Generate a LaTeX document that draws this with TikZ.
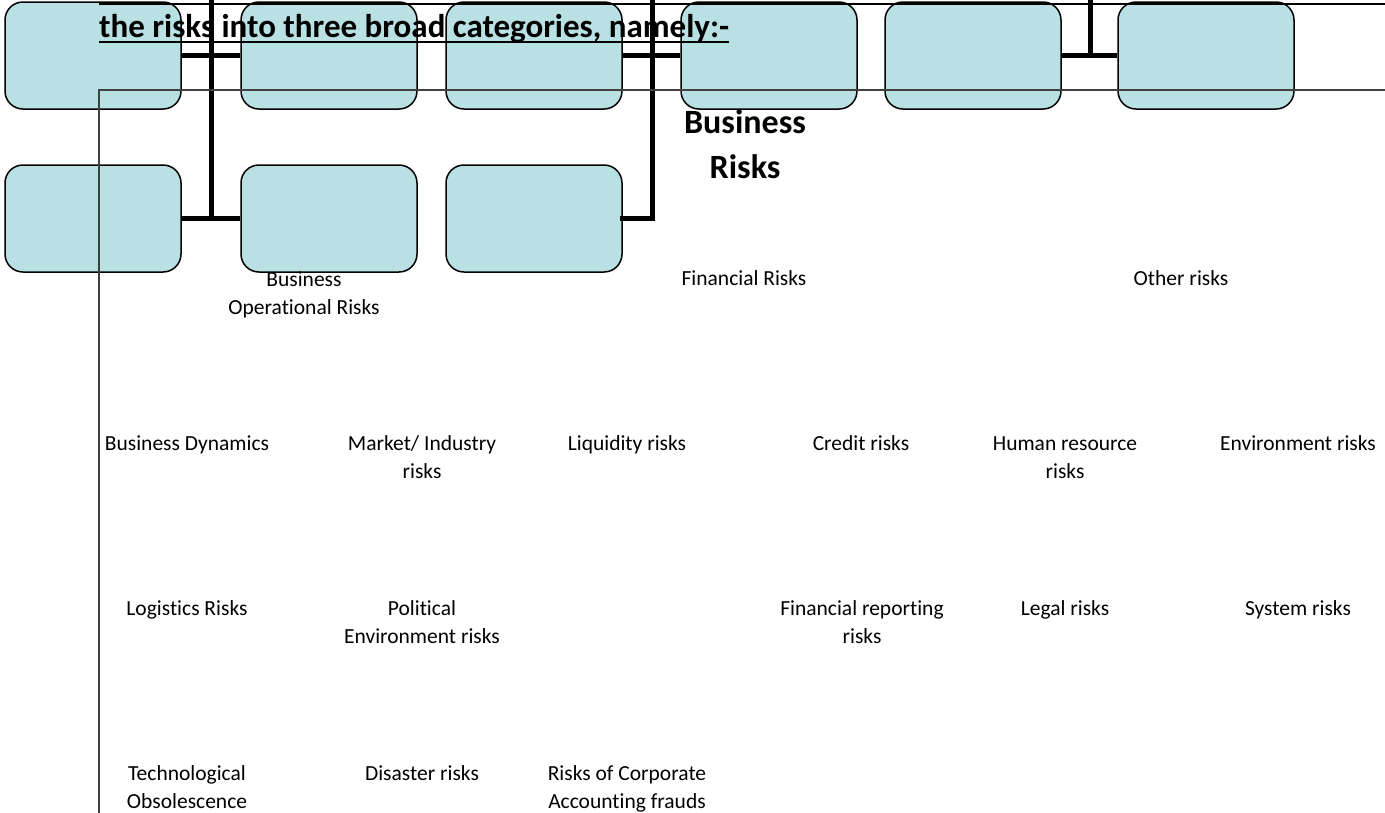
\documentclass[tikz,border=0pt]{standalone}
\usepackage{fontspec}
\setmainfont{Carlito}[Ligatures=NoCommon]
\usepackage{amsmath}

\definecolor{boxblue}{RGB}{185,224,227}
\tikzset{
  riskbox/.style={draw=black, line width=1.5pt, fill=boxblue, rounded corners=18pt,
    minimum width=176pt, minimum height=107pt, inner sep=0pt},
  spine/.style={line width=5pt},
  guide/.style={line width=1.2pt, draw=black!75},
  uline/.style={line width=1.5pt},
  lbl/.style={font=\fontsize{21.5}{28}\selectfont, align=center, anchor=base, inner sep=0pt},
  head/.style={font=\bfseries\fontsize{34}{45}\selectfont, align=center, anchor=base, inner sep=0pt},
  ttl/.style={font=\bfseries\fontsize{33}{39}\selectfont, anchor=base west, inner sep=0pt},
}

\begin{document}
\begin{tikzpicture}[x=1pt,y=-1pt]
\useasboundingbox (0,0) rectangle (1385,812);

\foreach \n/\x in {1/93,2/329,3/534,4/769,5/973,6/1206}
  \node[riskbox] (top\n) at (\x,55.5) {};
\foreach \n/\x in {1/93,2/329,3/534}
  \node[riskbox] (low\n) at (\x,218.5) {};

\coordinate (jA) at (211,-5);
\coordinate (jB) at (652,-5);
\coordinate (jC) at (1090,-5);
\draw[spine] (top1.east) -- (top2.west);
\draw[spine] (low1.east) -- (low2.west);
\draw[spine,line cap=rect] (jA) -- (jA |- low1.east);
\draw[spine] (top3.east) -- (top4.west);
\draw[spine,line cap=rect] (jB) -- (jB |- low3.east) -- (low3.east);
\draw[spine] (top5.east) -- (top6.west);
\draw[spine] (jC) -- (jC |- top5.east);

\coordinate (gCorner) at (99,90);
\coordinate (gRight) at (1390,90);
\coordinate (gBottom) at (99,817);
\draw[guide] (gBottom) -- (gCorner) -- (gRight);

\node[ttl] (num) at (62,-1) {3.};
\node[ttl] (tl1) at (99,-1) {RISKS RELATING TO THE COMPANY AND THE MITIGATION MEASURES ADOPTED BY LEDWD: We have divided};
\node[ttl] (tl2) at (99,37) {the risks into three broad categories, namely:-};
\draw[uline] ([yshift=-5pt]tl1.base west) -- ([yshift=-5pt]tl1.base east);
\draw[uline] ([yshift=-5pt]tl2.base west) -- ([yshift=-5pt]tl2.base east);

\node[head] (bizrisk) at (745,178) {Business\\Risks};

\node[lbl] (opr) at (304,314) {Business\\Operational Risks};
\node[lbl] (fin) at (744,285) {Financial Risks};
\node[lbl] (oth) at (1181,285) {Other risks};

\node[lbl] (dyn) at (187,450) {Business Dynamics};
\node[lbl] (mkt) at (422,478) {Market/ Industry\\risks};
\node[lbl] (liq) at (627,450) {Liquidity risks};
\node[lbl] (cred) at (861,450) {Credit risks};
\node[lbl] (hr) at (1065,478) {Human resource\\risks};
\node[lbl] (env) at (1298,450) {Environment risks};

\node[lbl] (logi) at (187,615) {Logistics Risks};
\node[lbl] (pol) at (422,643) {Political\\Environment risks};
\node[lbl] (frep) at (862,643) {Financial reporting\\risks};
\node[lbl] (legal) at (1065,615) {Legal risks};
\node[lbl] (sys) at (1298,615) {System risks};

\node[lbl] (tech) at (187,808) {Technological\\Obsolescence};
\node[lbl] (dis) at (422,780) {Disaster risks};
\node[lbl] (fraud) at (627,808) {Risks of Corporate\\Accounting frauds};
\end{tikzpicture}
\end{document}
